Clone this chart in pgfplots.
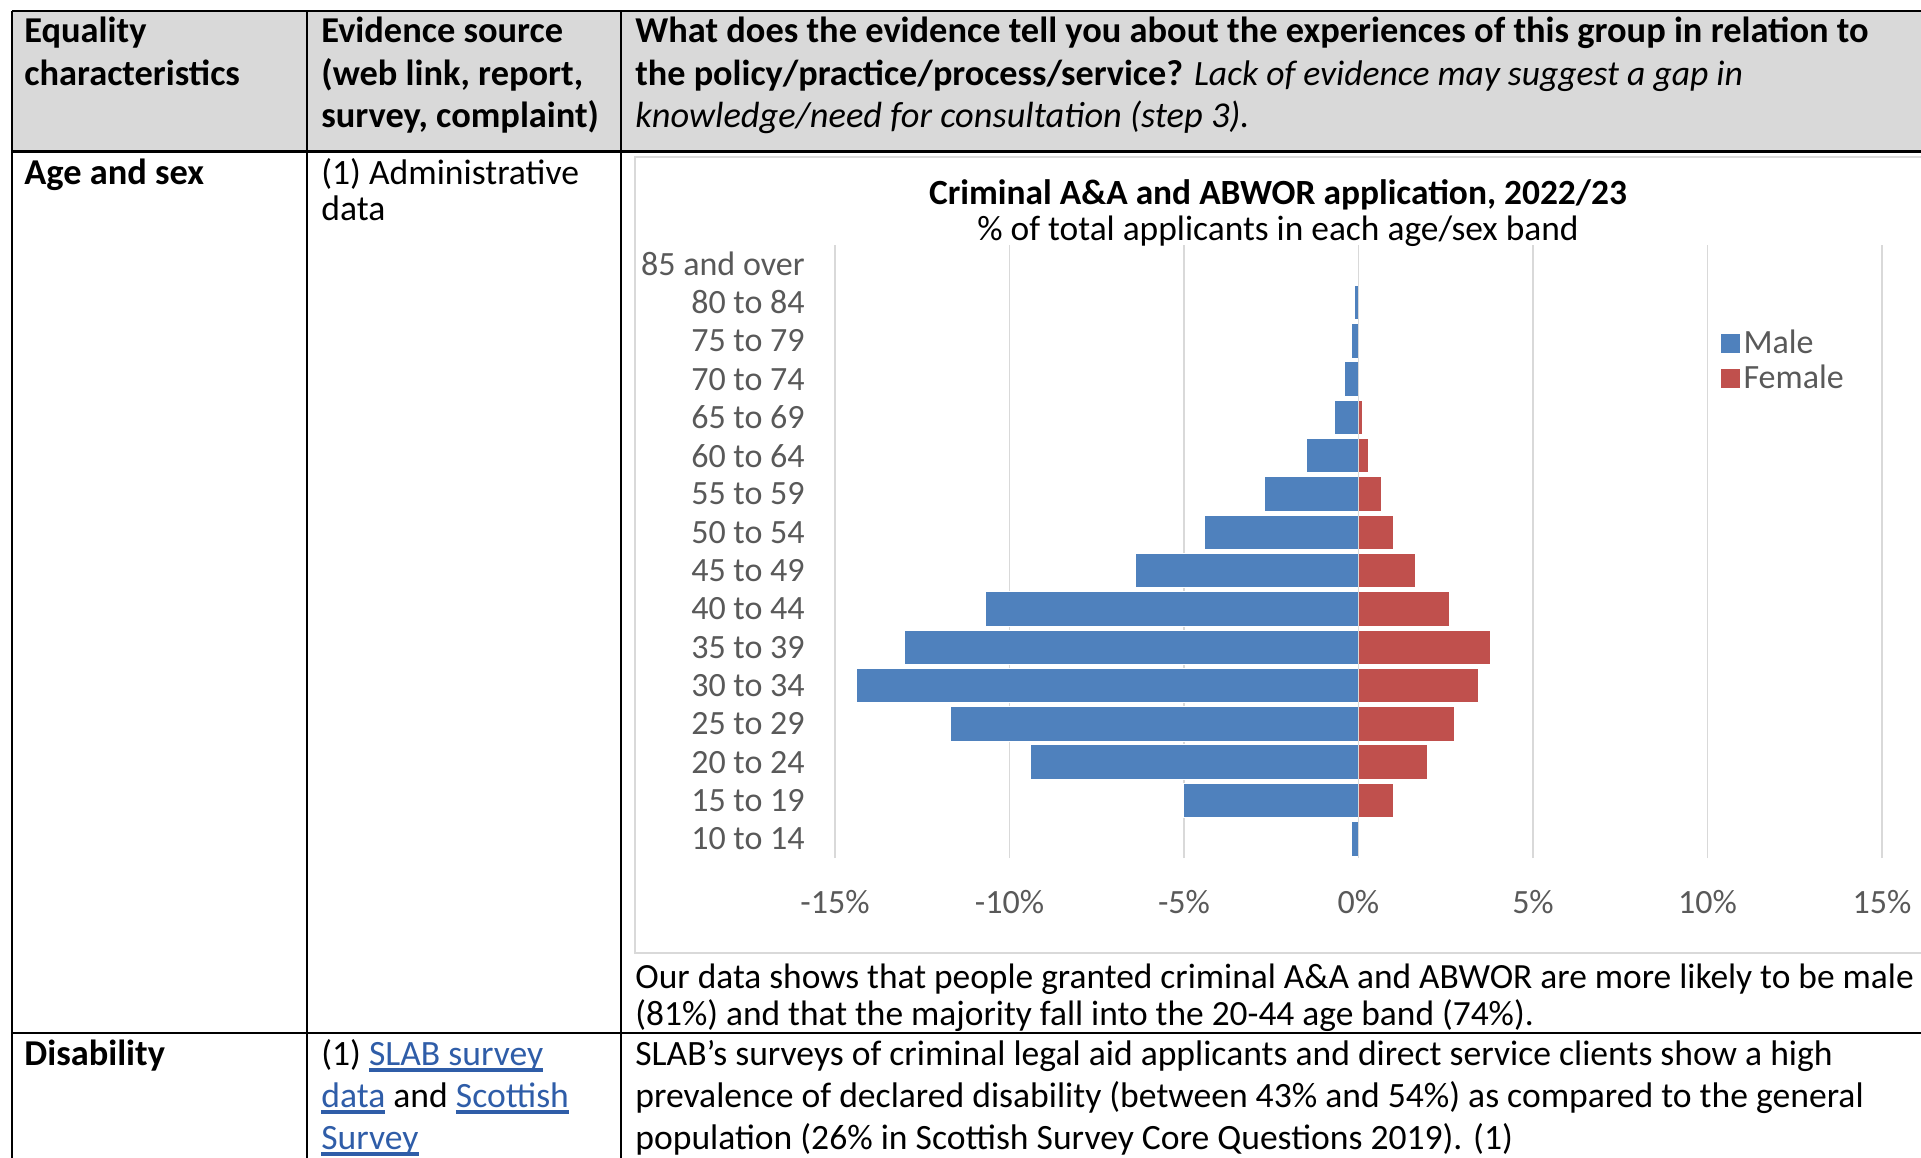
\documentclass[border=0pt]{standalone}
\usepackage{pgfplots}
\pgfplotsset{compat=1.18}
\usepackage{fontspec}
\setmainfont{Carlito}
\definecolor{male}{HTML}{4F81BD}
\definecolor{female}{HTML}{C0504D}
\definecolor{hdr}{HTML}{D9D9D9}
\definecolor{gridc}{HTML}{D9D9D9}
\definecolor{lbl}{HTML}{595959}
\definecolor{lnkc}{HTML}{2F5DA8}
\newcommand{\lnk}[1]{{\color{lnkc}\setbox0\hbox{#1}\leavevmode\rlap{\rule[-3.4pt]{\wd0}{1.8pt}}\box0}}

\begin{document}
\begin{tikzpicture}
% table drawn in pixel units, y downwards
\begin{scope}[x=0.5pt,y=-0.5pt,
  t/.style={anchor=base west,inner sep=0pt,font=\fontsize{17.8}{20}\selectfont},
  h/.style={anchor=base west,inner sep=0pt,font=\fontsize{18.2}{20}\selectfont\bfseries}]
  \useasboundingbox (0,0) rectangle (1921,1157);
  \clip (0,0) rectangle (1921,1157);
  \fill[hdr] (12,11) rectangle (1930,151);
  \draw[line width=1.2pt] (12,11) -- (1930,11);
  \draw[line width=1.5pt] (12,151) -- (1930,151);
  \draw[line width=1.2pt] (12,1033) -- (1930,1033);
  \foreach \cx in {12,307,621} \draw[line width=1.2pt] (\cx,11) -- (\cx,1160);
  \draw[gridc,line width=0.6pt] (635,157) rectangle (1940,953);

  \node[h] at (24,42) {Equality};
  \node[h] at (24,85) {characteristics};
  \node[h] at (321,42) {Evidence source};
  \node[h] at (321,85) {(web link, report,};
  \node[h] at (321,127) {survey, complaint)};
  \node[h] at (635,42) {What does the evidence tell you about the experiences of this group in relation to};
  \node[h] at (635,85) {\fontsize{18.1}{20}\selectfont the policy/practice/process/service? \fontsize{17.8}{20}\selectfont\mdseries\itshape Lack of evidence may suggest a gap in};
  \node[h] at (635,127) {\mdseries\itshape knowledge/need for consultation (step 3).};

  \node[h] at (24,184) {Age and sex};
  \node[t] at (321,184) {(1) Administrative};
  \node[t] at (321,220) {data};
  \node[anchor=base,inner sep=0pt,font=\fontsize{17.7}{20}\selectfont\bfseries] at (1278,204) {Criminal A\&A and ABWOR application, 2022/23};
  \node[anchor=base,inner sep=0pt,font=\fontsize{17.7}{20}\selectfont] at (1278,240) {\% of total applicants in each age/sex band};
  \node[t,font=\fontsize{17.7}{20}\selectfont] at (635,988) {Our data shows that people granted criminal A\&A and ABWOR are more likely to be male};
  \node[t,font=\fontsize{17.7}{20}\selectfont] at (635,1025) {(81\%) and that the majority fall into the 20-44 age band (74\%).};

  \node[h] at (24,1065) {Disability};
  \node[t] at (321,1065) {(1) \lnk{SLAB survey}};
  \node[t] at (321,1107) {\lnk{data} and \lnk{Scottish}};
  \node[t] at (321,1149) {\lnk{Survey}};
  \node[t] at (635,1065) {SLAB’s surveys of criminal legal aid applicants and direct service clients show a high};
  \node[t] at (635,1107) {prevalence of declared disability (between 43\% and 54\%) as compared to the general};
  \node[t] at (635,1149) {population (26\% in Scottish Survey Core Questions 2019). (1)};
\end{scope}

\begin{axis}[
  at={(417.5pt,-429pt)}, anchor=south west,
  scale only axis, width=523.5pt, height=306.5pt,
  xbar, bar width=0.9, bar shift=0pt,
  xmin=-15, xmax=15, ymin=-0.5, ymax=15.5,
  xtick={-15,-10,...,15},
  xticklabels={-15\%,-10\%,-5\%,0\%,5\%,10\%,15\%},
  ytick={0,...,15},
  yticklabels={10 to 14,15 to 19,20 to 24,25 to 29,30 to 34,35 to 39,40 to 44,45 to 49,50 to 54,55 to 59,60 to 64,65 to 69,70 to 74,75 to 79,80 to 84,85 and over},
  axis line style={draw=none}, major tick length=0pt,
  xmajorgrids, grid style={gridc,line width=0.8pt},
  tick label style={font=\fontsize{17}{20}\selectfont,text=lbl},
  xticklabel style={anchor=center,yshift=-22pt},
  yticklabel style={anchor=east,inner sep=0pt,xshift=-15pt},
  legend style={at={(0.846,0.868)},anchor=north west,draw=none,fill=none,
    font=\fontsize{17}{20}\selectfont,text=lbl,inner sep=0pt,row sep=0.2pt},
  legend cell align=left,
  legend image code/.code={\fill[#1,draw=none] (0pt,-4.6pt) rectangle (9.2pt,4.6pt);},
]
\addplot[fill=male,draw=white,line width=0.5pt] coordinates {
  (-0.20,0) (-5.01,1) (-9.41,2) (-11.70,3) (-14.39,4) (-13.01,5) (-10.69,6) (-6.39,7)
  (-4.41,8) (-2.70,9) (-1.49,10) (-0.69,11) (-0.41,12) (-0.20,13) (-0.11,14)};
\addplot[fill=female,draw=white,line width=0.5pt] coordinates {
  (1.00,1) (1.99,2) (2.76,3) (3.43,4) (3.79,5) (2.61,6) (1.62,7)
  (0.99,8) (0.67,9) (0.28,10) (0.11,11)};
\draw[gridc,line width=0.8pt] (axis cs:0,-0.5) -- (axis cs:0,15.5);
\legend{Male,Female}
\end{axis}
\end{tikzpicture}
\end{document}
